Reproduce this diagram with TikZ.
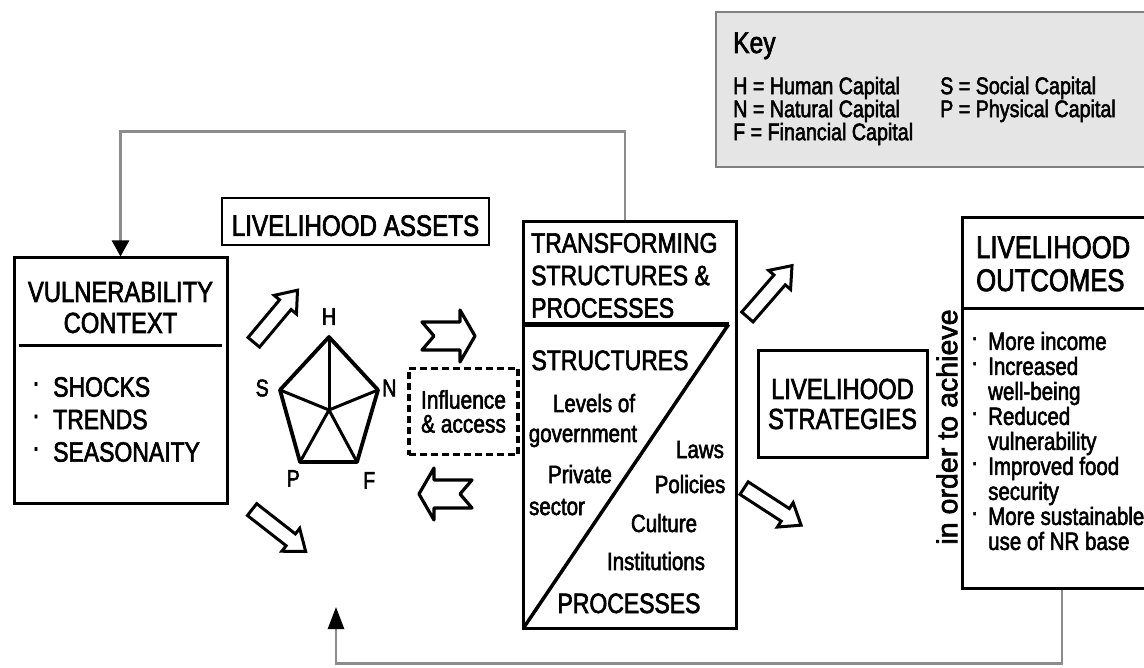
\documentclass[tikz,border=0pt]{standalone}
\usepackage{fontspec}
\setmainfont[FakeStretch=0.82,FakeBold=2.2]{Liberation Sans}
\newfontfamily\plainsans[FakeBold=2.2]{Liberation Sans}
\usepackage{tikz}
\usetikzlibrary{shapes.arrows,arrows.meta,positioning}
\tikzstyle{box} = [rectangle, draw, line width=3pt, inner sep=0pt]
\tikzstyle{heading} = [align=center, inner sep=0pt, font=\fontsize{29}{31}\selectfont]
\tikzstyle{entry} = [inner sep=0pt, font=\fontsize{25}{25}\selectfont]
\tikzstyle{capital} = [inner sep=0pt, font=\fontsize{24}{24}\selectfont]
\tikzstyle{hollow} = [single arrow, draw, fill=white, line width=3pt,
    inner xsep=0pt, inner ysep=6pt, single arrow head extend=7pt,
    single arrow tip angle=75, minimum height=68pt]
\tikzstyle{notched} = [draw, line width=3.2pt, line join=round, fill=white]
\tikzstyle{feedback} = [draw, line width=2.5pt, color=black!45,
    -{Triangle[width=17pt,length=16pt,color=black]}]
\newcommand{\bdot}[1][21pt]{\makebox[#1][l]{\raisebox{0.18em}{\textperiodcentered}}}

\begin{document}
\begin{tikzpicture}[x=1pt, y=-1pt]
    \useasboundingbox (0,0) rectangle (1144,668);
    % Place boxes
    \node [box, fill=black!10, draw=black!50, line width=1.6pt, minimum width=450pt, minimum height=155pt] (keybox) at (941,89.5) {};
    \node [box, minimum width=213pt, minimum height=245pt] (vuln) at (120.5,380.5) {};
    \node [box, line width=2.8pt, minimum width=267pt, minimum height=47pt, text height=29pt,
        font=\fontsize{29.5}{31}\selectfont] (assets) at (355.5,221.5) {LIVELIHOOD ASSETS};
    \node [box, dashed, dash pattern=on 7pt off 4pt, line width=3.2pt, minimum width=109pt, minimum height=86pt,
        align=center, font=\fontsize{25.5}{24}\selectfont] (influence) at (463.5,411.5) {Influence\\\& access};
    \node [box, minimum width=213pt, minimum height=406pt] (transform) at (629.5,425) {};
    \node [box, minimum width=169pt, minimum height=107pt, align=center,
        font=\fontsize{29}{30}\selectfont] (strat) at (842.5,404) {LIVELIHOOD\\STRATEGIES};
    \node [box, minimum width=204pt, minimum height=370pt] (outcomes) at (1064,403) {};

    % Key
    \node [anchor=base west, inner sep=0pt, font=\fontsize{30}{30}\selectfont] (keytitle) at (733,53) {Key};
    \node [entry, anchor=west, align=left, font=\fontsize{24}{23}\selectfont] (keyleft) at (733,111)
        {H = Human Capital\\N = Natural Capital\\F = Financial Capital};
    \node [entry, anchor=west, align=left, font=\fontsize{24}{23}\selectfont] (keyright) at (940,99.4)
        {S = Social Capital\\P = Physical Capital};

    % Vulnerability context
    \node [heading] (vulntitle) at (120.5,307.6) {VULNERABILITY\\CONTEXT};
    \draw [line width=3pt] ([shift={(6pt,-89pt)}]vuln.north west) -- ([shift={(-7pt,-89pt)}]vuln.north east);
    \node [entry, anchor=west, align=left, font=\fontsize{28}{32.5}\selectfont] (vulnlist) at (32,419.5)
        {\bdot SHOCKS\\\bdot TRENDS\\\bdot SEASONAITY};

    % Asset pentagon
    \coordinate (pH) at (329,337);
    \coordinate (pN) at (378,390);
    \coordinate (pF) at (357,462);
    \coordinate (pP) at (300,462);
    \coordinate (pS) at (280,390);
    \coordinate (pC) at (329,410);
    \draw [line width=3.8pt, line join=round] (pH) -- (pN) -- (pF) -- (pP) -- (pS) -- cycle;
    \foreach \v in {pH,pN,pF,pP,pS}
        \draw [line width=3pt] (pC) -- (\v);
    \node [capital, above=12pt of pH] (lH) {H};
    \node [capital, left=11pt of pS, yshift=2pt] (lS) {S};
    \node [capital, right=4pt of pN, yshift=2pt] (lN) {N};
    \node [capital, below left=8pt and 0pt of pP] (lP) {P};
    \node [capital, below right=10pt and 6pt of pF] (lF) {F};

    % Transforming structures and processes
    \node [heading, anchor=west, align=left, font=\fontsize{28}{32.5}\selectfont] (transtitle) at (531,275.5)
        {TRANSFORMING\\STRUCTURES \&\\PROCESSES};
    \draw [line width=4.5pt] ([yshift=-104pt]transform.north west) -- ++(207,0) coordinate (diagtop);
    \draw [line width=3.5pt] (diagtop) -- ([shift={(3pt,3pt)}]transform.south west);
    \node [entry, anchor=base, font=\fontsize{28}{28}\selectfont] (structs) at (610,370) {STRUCTURES};
    \node [entry, anchor=base] (levels) at (594,412) {Levels of};
    \node [entry, anchor=base] (govt) at (583,442) {government};
    \node [entry, anchor=base] (private) at (580,483) {Private};
    \node [entry, anchor=base] (sector) at (557,515) {sector};
    \node [entry, anchor=base] (laws) at (700,458) {Laws};
    \node [entry, anchor=base] (policies) at (690,493) {Policies};
    \node [entry, anchor=base] (culture) at (664,532) {Culture};
    \node [entry, anchor=base] (instit) at (656,570) {Institutions};
    \node [entry, anchor=base, font=\fontsize{28}{28}\selectfont] (procs) at (629,613) {PROCESSES};

    % Livelihood outcomes
    \node [inner sep=0pt, rotate=90, font=\plainsans\fontsize{28.6}{30}\selectfont] (achieve) at (947,427) {in order to achieve};
    \node [heading, anchor=west, align=left, font=\fontsize{31.3}{33}\selectfont] (outtitle) at (976,263.8)
        {LIVELIHOOD\\OUTCOMES};
    \draw [line width=3pt] ([yshift=-92pt]outcomes.north west) -- ([yshift=-92pt]outcomes.north east);
    \node [entry, anchor=west, align=left] (outlist) at (971,441)
        {\bdot[17pt]More income\\\bdot[17pt]Increased\\\hspace*{17pt}well-being\\
         \bdot[17pt]Reduced\\\hspace*{17pt}vulnerability\\\bdot[17pt]Improved food\\
         \hspace*{17pt}security\\\bdot[17pt]More sustainable\\\hspace*{17pt}use of NR base};

    % Block arrows
    \node [hollow, rotate=50] (assetsup) at (272.5,320) {};
    \node [hollow, rotate=-38] (assetsdown) at (275,527.5) {};
    \node [hollow, rotate=49] (stratup) at (766.5,295) {};
    \node [hollow, rotate=-33] (stratdown) at (768.5,504) {};
    \draw [notched, shift={(447,336)}] (-25,-14) -- (13,-14) -- (13,-26) -- (28,0)
        -- (13,26) -- (13,14) -- (-25,14) -- (-13,0) -- cycle;
    \draw [notched, shift={(447,494)}, xscale=-1] (-25,-14) -- (13,-14) -- (13,-26) -- (28,0)
        -- (13,26) -- (13,14) -- (-25,14) -- (-13,0) -- cycle;

    % Draw feedback lines
    \draw [feedback] ([xshift=-4.5pt]transform.north) -- ++(0,-89) -| (vuln.north);
    \coordinate (assetsin) at (336,607);
    \draw [feedback, -{Triangle[width=16pt,length=22pt,color=black]}] ([xshift=-2pt]outcomes.south) -- ++(0,74) -| (assetsin);
\end{tikzpicture}
\end{document}
